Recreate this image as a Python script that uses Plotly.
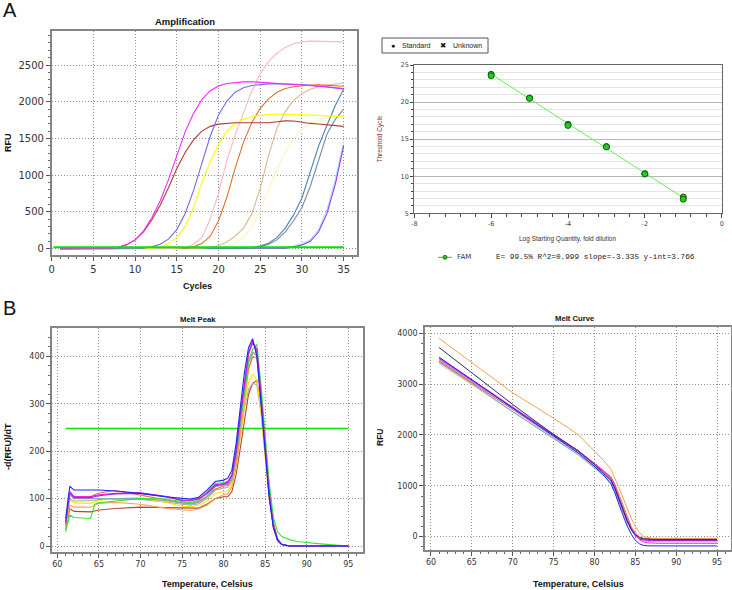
import plotly.graph_objects as go

W, H = 732, 590
def px(x): return x / W
def py(y): return 1 - y / H

# ---------------- Amplification data (RFU per cycle) ----------------
cycles = list(range(1, 36))
amp_magenta = [0,0,0,0,0,0,5,20,55,120,240,420,650,940,1280,1590,1840,2030,2150,2215,2248,2262,2270,2272,2265,2257,2250,2245,2240,2235,2225,2215,2205,2190,2180]
amp_brown = [0,0,0,0,0,0,5,20,55,120,230,390,590,830,1090,1310,1480,1600,1665,1695,1710,1715,1715,1712,1712,1715,1728,1740,1738,1720,1705,1698,1690,1680,1665]
amp_slateblue = [0,0,0,0,0,0,0,0,0,0,5,25,60,130,260,480,790,1160,1530,1820,2010,2130,2190,2222,2237,2243,2245,2244,2240,2234,2225,2215,2200,2188,2175]
amp_yellow = [0,0,0,0,0,0,0,0,0,0,0,5,25,70,150,300,560,900,1180,1420,1600,1700,1760,1795,1815,1828,1832,1832,1830,1825,1820,1815,1808,1800,1795]
amp_pink = [0,0,0,0,0,0,0,0,0,0,0,0,0,0,5,20,60,150,400,760,1200,1550,1840,2150,2380,2550,2660,2740,2790,2815,2825,2825,2822,2818,2812]
amp_orange = [0,0,0,0,0,0,0,0,0,0,0,0,0,0,0,5,25,70,170,380,700,1100,1450,1720,1910,2040,2130,2180,2205,2220,2228,2230,2225,2218,2210]
amp_tan = [0,0,0,0,0,0,0,0,0,0,0,0,0,0,0,0,0,5,15,40,90,170,280,480,820,1270,1640,1870,2020,2110,2170,2205,2225,2240,2255]
amp_paleyellow = [0,0,0,0,0,0,0,0,0,0,0,0,0,0,0,0,0,0,0,10,30,70,150,300,520,800,1080,1320,1500,1620,1700,1750,1780,1800,1810]
amp_steelblue = [0,0,0,0,0,0,0,0,0,0,0,0,0,0,0,0,0,0,0,0,0,0,5,15,35,75,150,280,460,690,1040,1400,1680,1950,2170]
amp_slategray = [0,0,0,0,0,0,0,0,0,0,0,0,0,0,0,0,0,0,0,0,0,0,0,10,25,60,120,230,380,560,850,1220,1560,1760,1900]
amp_turquoise = [0,0,0,0,0,0,0,0,0,0,0,0,0,0,0,0,0,0,0,0,0,0,0,0,0,0,5,15,35,70,120,260,530,950,1460]
amp_violet = [0,0,0,0,0,0,0,0,0,0,0,0,0,0,0,0,0,0,0,0,0,0,0,0,0,0,2,8,25,50,100,230,480,880,1400]
amp_threshold = 20
amp_threshold_x = [0.2, 35]

# ---------------- Standard curve data ----------------
std_log_qty = [-6, -6, -5, -5, -4, -4, -3, -3, -2, -2, -1, -1]
std_ct = [23.75, 23.55, 20.55, 20.5, 17.0, 16.85, 14.0, 13.95, 10.35, 10.3, 7.2, 6.9]
fit_slope = -3.335
fit_intercept = 3.766
fit_x = [-6, -1]
std_x_ticks = [-8, -6, -4, -2, 0]
std_x_labels = ["-8", "-6", "-4", "-2", "0"]
fam_text = "E= 99.5% R^2=0.999 slope=-3.335 y-int=3.766"

# ---------------- Melt peak data (-d(RFU)/dT) ----------------
peak_T = [61, 61.5, 62, 63, 64, 64.5, 65, 67, 70, 73, 75, 76, 77, 78, 79, 80, 80.5, 81, 81.5, 82, 82.5, 83, 83.5, 84, 84.5, 85, 85.5, 86, 86.5, 87, 87.5, 88, 89, 90, 92, 95]
pk_brown = [35,79,73,72,72,74,76,79,82,81,80,79,80,88,100,104,104,115,150,205,265,320,343,349,295,215,120,48,15,4,1,0,0,0,0,0]
pk_gray = [38,100,95,95,95,96,98,99,98,93,88,86,89,100,118,122,124,135,172,232,290,330,343,340,280,190,100,38,11,3,1,0,0,0,0,0]
pk_yellow = [40,97,91,90,90,93,96,100,102,92,84,83,86,95,111,115,116,130,170,230,295,345,362,350,285,190,100,38,11,3,1,0,0,0,0,0]
pk_lightorange = [36,86,82,82,82,86,90,92,88,80,76,75,78,86,100,108,110,125,165,235,310,370,405,410,320,205,110,42,12,3,1,0,0,0,0,0]
pk_darkorange = [42,113,104,104,104,108,112,117,107,98,91,90,94,105,120,126,128,140,182,252,320,375,398,398,310,200,105,40,12,3,1,0,0,0,0,0]
pk_grayblue = [45,108,100,100,100,100,100,100,100,96,90,88,92,104,125,128,130,142,188,258,328,386,408,400,310,200,105,40,12,3,1,0,0,0,0,0]
pk_green = [30,65,60,59,58,88,91,95,100,99,93,91,96,115,132,134,136,150,195,262,330,390,415,425,340,225,130,60,30,20,17,13,9,7,4,0]
pk_purple = [48,112,102,102,102,104,106,110,111,104,96,95,99,110,127,130,133,148,198,272,345,408,432,410,315,200,105,40,12,3,1,0,0,0,0,0]
pk_magenta = [50,115,104,104,104,106,108,111,112,105,97,96,100,112,129,132,135,150,200,275,345,405,428,415,320,205,110,42,12,3,1,0,0,0,0,0]
pk_blue = [58,126,118,118,118,118,118,116,111,104,100,99,103,118,136,139,143,160,215,295,365,418,437,400,300,190,100,38,12,3,1,0,0,0,0,0]
peak_threshold = 248
peak_threshold_T = [61, 95]

# ---------------- Melt curve data (RFU) ----------------
curve_T = [61, 65, 70, 75, 78, 80, 81, 82, 82.5, 83, 83.5, 84, 84.5, 85, 85.5, 86, 86.5, 87, 88, 90, 95]
mc_tan = [3400,2990,2450,1940,1630,1370,1240,1100,940,730,520,320,160,50,-10,-35,-42,-45,-45,-45,-45]
mc_lightblue = [3430,3010,2460,1930,1610,1350,1220,1070,900,680,470,280,120,20,-25,-45,-50,-52,-52,-52,-52]
mc_gray = [3460,3040,2500,1960,1650,1390,1260,1110,940,720,500,300,140,35,-15,-38,-45,-47,-47,-47,-47]
mc_darkorange = [3450,3040,2510,1990,1690,1440,1310,1180,1030,820,600,390,200,70,-5,-30,-38,-40,-40,-40,-40]
mc_pink = [3480,3060,2520,1990,1690,1440,1310,1170,1010,790,570,360,180,50,-40,-85,-98,-100,-100,-100,-100]
mc_purple = [3500,3070,2530,1990,1680,1420,1290,1130,970,740,520,310,140,20,-50,-70,-75,-75,-75,-75,-75]
mc_magenta = [3520,3090,2550,2000,1690,1440,1310,1160,1000,770,550,340,160,30,-60,-105,-122,-128,-130,-130,-130]
mc_blue = [3530,3080,2530,1980,1650,1380,1230,1040,860,630,410,210,50,-70,-140,-172,-180,-182,-182,-182,-182]
mc_navy = [3720,3220,2600,2010,1690,1420,1270,1110,950,740,520,320,150,40,-20,-45,-52,-55,-55,-55,-55]
mc_orange = [3900,3430,2830,2330,2010,1680,1520,1330,1160,960,760,560,360,200,80,5,-20,-30,-33,-33,-33]

fig = go.Figure()

def add_lines(xs, series, xa, ya, width=1.1):
    for ys, color in series:
        fig.add_trace(go.Scatter(x=xs, y=ys, mode="lines", line=dict(color=color, width=width),
                                 xaxis=xa, yaxis=ya, hoverinfo="skip", showlegend=False))

add_lines(cycles, [
    (amp_paleyellow, "#fff3b8"), (amp_turquoise, "#a8e8ee"), (amp_violet, "#9b30ff"),
    (amp_slategray, "#7a8a9c"), (amp_steelblue, "#4a80b4"), (amp_tan, "#dcb68a"),
    (amp_orange, "#e2702a"), (amp_pink, "#ffb8c4"), (amp_yellow, "#ffff00"),
    (amp_brown, "#b03a32"), (amp_slateblue, "#7468e8"), (amp_magenta, "#ff22ff"),
], "x", "y")
fig.add_trace(go.Scatter(x=amp_threshold_x, y=[amp_threshold, amp_threshold], mode="lines",
                         line=dict(color="#00e600", width=2), xaxis="x", yaxis="y",
                         hoverinfo="skip", showlegend=False))

# standard curve
fig.add_trace(go.Scatter(x=fit_x, y=[fit_slope * v + fit_intercept for v in fit_x], mode="lines",
                         line=dict(color="#66ee55", width=1), xaxis="x2", yaxis="y2",
                         hoverinfo="skip", showlegend=False))
fig.add_trace(go.Scatter(x=std_log_qty, y=std_ct, mode="markers",
                         marker=dict(color="#22cc22", size=6, line=dict(color="#106010", width=1)),
                         xaxis="x2", yaxis="y2", hoverinfo="skip", showlegend=False))

# melt peak
fig.add_trace(go.Scatter(x=peak_threshold_T, y=[peak_threshold, peak_threshold], mode="lines",
                         line=dict(color="#00e600", width=1.5), xaxis="x3", yaxis="y3",
                         hoverinfo="skip", showlegend=False))
add_lines(peak_T, [
    (pk_brown, "#b5452f"), (pk_gray, "#a8a8a8"), (pk_yellow, "#ffe600"),
    (pk_lightorange, "#ffa25a"), (pk_darkorange, "#e8792b"), (pk_grayblue, "#7fa7c0"),
    (pk_green, "#2ee82e"), (pk_magenta, "#ff00ff"), (pk_purple, "#9932cc"), (pk_blue, "#2020ff"),
], "x3", "y3")

# melt curve
add_lines(curve_T, [
    (mc_tan, "#e3c195"), (mc_lightblue, "#6aa6d8"), (mc_gray, "#9a9a9a"),
    (mc_darkorange, "#d2691e"), (mc_pink, "#ff8fb0"), (mc_purple, "#8a2be2"),
    (mc_magenta, "#ff20ff"), (mc_blue, "#2020ff"), (mc_navy, "#2a2a6e"), (mc_orange, "#f5a05a"),
], "x4", "y4", width=1.0)

tick_big = dict(family="DejaVu Sans", size=10, color="#333")
tick_small = dict(family="DejaVu Sans", size=8, color="#333")

def frame_axis(domain, rng, dtick, minor_dtick, anchor, font):
    return dict(domain=domain, range=rng, dtick=dtick, tick0=0, anchor=anchor, automargin=False,
                showline=True, linecolor="#858585", linewidth=1.5, mirror=True,
                ticks="outside", ticklen=4, tickcolor="#555", tickwidth=1,
                showgrid=True, gridcolor="#8f8f8f", griddash="1px,2px", gridwidth=1,
                zeroline=False, tickfont=font,
                minor=dict(dtick=minor_dtick, ticks="outside", ticklen=2, tickcolor="#666",
                           showgrid=False))

layout = dict(
    width=W, height=H, margin=dict(l=0, r=0, t=0, b=0, autoexpand=False),
    paper_bgcolor="white", plot_bgcolor="white", showlegend=False,
    xaxis=frame_axis([px(51.7), px(357)], [0, 36.6], 5, 1, "y", tick_big),
    yaxis=frame_axis([py(255), py(31)], [-86, 2963], 500, 100, "x", tick_big),
    xaxis3=frame_axis([px(52), px(363)], [59.36, 96.77], 5, 1, "y3", tick_small),
    yaxis3=frame_axis([py(552), py(328)], [-12.6, 459.7], 100, 20, "x3", tick_small),
    xaxis4=frame_axis([px(425), px(731)], [59.27, 96.7], 5, 1, "y4", tick_small),
    yaxis4=frame_axis([py(550), py(327.3)], [-262, 4118], 1000, 200, "x4", tick_small),
    xaxis2=dict(domain=[px(414.3), px(721.7)], range=[-8, 0], anchor="y2", automargin=False,
                tickmode="array", tickvals=std_x_ticks, ticktext=std_x_labels,
                showline=True, linecolor="#666", linewidth=1.2, mirror=True,
                ticks="outside", ticklen=4, tickcolor="#444", showgrid=False, zeroline=False,
                tickfont=dict(family="DejaVu Sans", size=6.5, color="#444"),
                minor=dict(tickmode="linear", tick0=0, dtick=0.4, ticks="outside", ticklen=3,
                           tickcolor="#444", showgrid=False)),
    yaxis2=dict(domain=[py(213.3), py(65)], range=[5, 25], dtick=5, anchor="x2", automargin=False,
                showline=True, linecolor="#666", linewidth=1.2, mirror=True,
                ticks="outside", ticklen=3, tickcolor="#444", showgrid=True,
                gridcolor="#b8b8b8", gridwidth=1, zeroline=False,
                tickfont=dict(family="DejaVu Sans", size=6.5, color="#444"),
                minor=dict(dtick=1, ticks="outside", ticklen=2, tickcolor="#444",
                           showgrid=True, gridcolor="#e4e4e4")),
)

ann = []
def text(x, y, s, size, bold=False, color="#111", angle=0, xanchor="center", family="Liberation Sans, Arial"):
    ann.append(dict(x=px(x), y=py(y), xref="paper", yref="paper", text=("<b>%s</b>" % s) if bold else s,
                    showarrow=False, textangle=angle, xanchor=xanchor, yanchor="middle",
                    font=dict(family=family, size=size, color=color)))

text(1, 10.5, "A", 20, xanchor="left")
text(1, 307.5, "B", 20, xanchor="left")
text(185, 21.5, "Amplification", 9.5, bold=True)
text(8, 143, "RFU", 9, bold=True, angle=-90)
text(197, 286, "Cycles", 9, bold=True)
text(198, 319, "Melt Peak", 7.7, bold=True)
text(8, 447, "-d(RFU)/dT", 9, bold=True, angle=-90)
text(207, 584, "Temperature, Celsius", 9, bold=True)
text(575, 318, "Melt Curve", 7.7, bold=True)
text(380, 438, "RFU", 8.5, bold=True, angle=-90)
text(578, 584, "Temperature, Celsius", 9, bold=True)
text(379.5, 139, "Threshold Cycle", 6.5, color="#8b3030", angle=-90)
text(567.7, 239, "Log Starting Quantity, fold dilution", 6.5, color="#333")
text(393, 45.5, "●", 7, color="#111")
text(400, 45.5, "Standard", 7, color="#222", xanchor="left")
text(443, 45.5, "✖", 7.5, color="#111", family="DejaVu Sans")
text(451, 45.5, "Unknown", 7, color="#222", xanchor="left")
text(455, 257.3, "FAM", 7, color="#333", xanchor="left", family="DejaVu Sans")
text(494, 257.3, fam_text, 7.7, color="#222", xanchor="left", family="Liberation Mono, DejaVu Sans Mono")
layout["annotations"] = ann

layout["shapes"] = [
    dict(type="rect", xref="paper", yref="paper", x0=px(382), x1=px(488), y0=py(53), y1=py(38),
         line=dict(color="#555", width=1), fillcolor="rgba(0,0,0,0)"),
    dict(type="line", xref="paper", yref="paper", x0=px(438), x1=px(452), y0=py(257.3), y1=py(257.3),
         line=dict(color="#22cc22", width=1)),
    dict(type="circle", xref="paper", yref="paper", x0=px(443), x1=px(447), y0=py(259.3), y1=py(255.3),
         line=dict(color="#106010", width=0.8), fillcolor="#22cc22"),
]

fig.update_layout(**layout)
fig.write_html("out.html", config={"displayModeBar": False},
               post_script="document.body.style.margin='0';document.body.style.overflow='hidden';")
